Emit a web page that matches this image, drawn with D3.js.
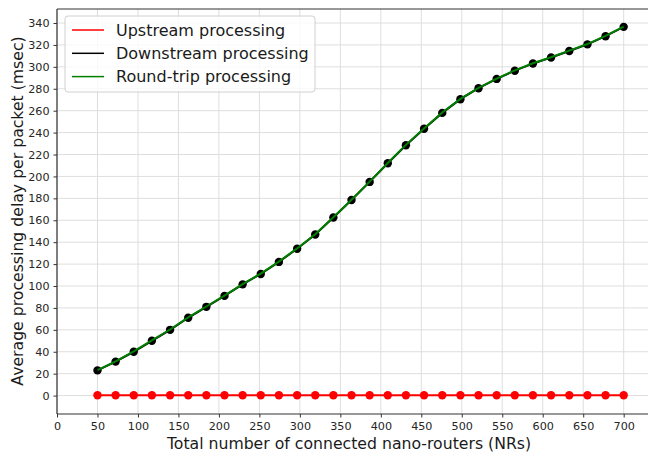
<!DOCTYPE html>
<html>
<head>
<meta charset="utf-8">
<script src="https://cdn.jsdelivr.net/npm/d3@7"></script>
<style>
  body { margin: 0; background: #fff; }
  svg text { font-family: "DejaVu Sans", sans-serif; }
</style>
</head>
<body>
<div id="chart"></div>
<script>
var width = 648, height = 453;

// number of connected NRs (30 points from 50 to 700)
var nrCounts = [50, 72.4, 94.8, 117.2, 139.7, 162.1, 184.5, 206.9, 229.3, 251.7,
  274.1, 296.6, 319, 341.4, 363.8, 386.2, 408.6, 431, 453.4, 475.9,
  498.3, 520.7, 543.1, 565.5, 587.9, 610.3, 632.8, 655.2, 677.6, 700];

var upstream = [0.3, 0.3, 0.3, 0.3, 0.3, 0.3, 0.3, 0.3, 0.3, 0.3,
  0.3, 0.3, 0.3, 0.3, 0.3, 0.3, 0.3, 0.3, 0.3, 0.3,
  0.3, 0.3, 0.3, 0.3, 0.3, 0.3, 0.3, 0.3, 0.3, 0.3];

var downstream = [23, 31, 40, 50, 60, 71, 81, 91, 101.5, 111,
  122, 134, 147, 162.5, 178.5, 195, 212, 228.5, 243.5, 258,
  270.5, 280.5, 289, 296.5, 303, 308.5, 314.5, 320.5, 328, 336.5];

var roundTrip = [23.3, 31.3, 40.3, 50.3, 60.3, 71.3, 81.3, 91.3, 101.8, 111.3,
  122.3, 134.3, 147.3, 162.8, 178.8, 195.3, 212.3, 228.8, 243.8, 258.3,
  270.8, 280.8, 289.3, 296.8, 303.3, 308.8, 314.8, 320.8, 328.3, 336.8];

var xTicks = [0, 50, 100, 150, 200, 250, 300, 350, 400, 450, 500, 550, 600, 650, 700];
var yTicks = [0, 20, 40, 60, 80, 100, 120, 140, 160, 180, 200, 220, 240, 260, 280, 300, 320, 340];

var legendNames = ['Upstream processing', 'Downstream processing', 'Round-trip processing'];
var legendColors = ['#ff0000', '#000000', '#008000'];

var plotLeft = 57, plotTop = 9, plotRight = 650, plotBottom = 414;

var svg = d3.select('#chart').append('svg')
    .attr('width', width)
    .attr('height', height);

var x = d3.scaleLinear().domain([0, 732.5]).range([plotLeft, plotRight]);
var y = d3.scaleLinear().domain([-16.8, 352.8]).range([plotBottom, plotTop]);

// grid
svg.append('g').selectAll('line')
  .data(xTicks).enter().append('line')
    .attr('x1', function(d) { return x(d); })
    .attr('x2', function(d) { return x(d); })
    .attr('y1', plotTop).attr('y2', plotBottom)
    .attr('stroke', '#dedede').attr('stroke-width', 1);
svg.append('g').selectAll('line')
  .data(yTicks).enter().append('line')
    .attr('x1', plotLeft).attr('x2', plotRight)
    .attr('y1', function(d) { return y(d); })
    .attr('y2', function(d) { return y(d); })
    .attr('stroke', '#dedede').attr('stroke-width', 1);

// axes
var xAxis = svg.append('g')
    .attr('transform', 'translate(0,' + plotBottom + ')')
    .call(d3.axisBottom(x).tickValues(xTicks).tickSize(3.5).tickPadding(4.5));
var yAxis = svg.append('g')
    .attr('transform', 'translate(' + plotLeft + ',0)')
    .call(d3.axisLeft(y).tickValues(yTicks).tickSize(3.5).tickPadding(4));

[xAxis, yAxis].forEach(function(a) {
  a.select('.domain').remove();
  a.selectAll('line').attr('stroke', '#333');
  a.selectAll('text').attr('font-size', 11.2).attr('fill', '#262626')
    .attr('font-family', '"DejaVu Sans", sans-serif');
});

// spines
svg.append('line').attr('x1', plotLeft).attr('x2', plotLeft).attr('y1', plotTop).attr('y2', plotBottom)
  .attr('stroke', '#333').attr('stroke-width', 1.2);
svg.append('line').attr('x1', plotLeft).attr('x2', plotRight).attr('y1', plotBottom).attr('y2', plotBottom)
  .attr('stroke', '#333').attr('stroke-width', 1.2);
svg.append('line').attr('x1', plotLeft).attr('x2', plotRight).attr('y1', plotTop).attr('y2', plotTop)
  .attr('stroke', '#333').attr('stroke-width', 1.2);

var line = function(vals) {
  return d3.line()
    .x(function(d, i) { return x(nrCounts[i]); })
    .y(function(d) { return y(d); })(vals);
};

// upstream
svg.append('path').attr('d', line(upstream))
  .attr('fill', 'none').attr('stroke', '#ff0000').attr('stroke-width', 2);
svg.append('g').selectAll('circle')
  .data(upstream).enter().append('circle')
    .attr('cx', function(d, i) { return x(nrCounts[i]); })
    .attr('cy', function(d) { return y(d); })
    .attr('r', 4.2).attr('fill', '#ff0000');

// downstream
svg.append('path').attr('d', line(downstream))
  .attr('fill', 'none').attr('stroke', '#000').attr('stroke-width', 2);
svg.append('g').selectAll('circle')
  .data(downstream).enter().append('circle')
    .attr('cx', function(d, i) { return x(nrCounts[i]); })
    .attr('cy', function(d) { return y(d); })
    .attr('r', 4.2).attr('fill', '#000');

// round trip
svg.append('path').attr('d', line(roundTrip))
  .attr('fill', 'none').attr('stroke', '#008000').attr('stroke-width', 2);

// axis labels
svg.append('text')
  .attr('x', 349).attr('y', 449)
  .attr('text-anchor', 'middle').attr('font-size', 15.7).attr('fill', '#1a1a1a')
  .text('Total number of connected nano-routers (NRs)');
svg.append('text')
  .attr('transform', 'translate(23,' + 211 + ') rotate(-90)')
  .attr('text-anchor', 'middle').attr('font-size', 15.7).attr('fill', '#1a1a1a')
  .text('Average processing delay per packet (msec)');

// legend
var legend = svg.append('g');
legend.append('rect')
  .attr('x', 65).attr('y', 16).attr('width', 250).attr('height', 76)
  .attr('rx', 3).attr('fill', '#fff').attr('fill-opacity', 0.8)
  .attr('stroke', '#d0d0d0').attr('stroke-width', 1);
var items = legend.selectAll('g.item')
  .data(legendNames).enter().append('g')
    .attr('transform', function(d, i) { return 'translate(0,' + (30 + i * 23.3) + ')'; });
items.append('line')
  .attr('x1', 72).attr('x2', 104).attr('y1', 0).attr('y2', 0)
  .attr('stroke', function(d, i) { return legendColors[i]; }).attr('stroke-width', 1.5);
items.append('text')
  .attr('x', 116).attr('y', 5.7)
  .attr('font-size', 16).attr('fill', '#1a1a1a')
  .text(function(d) { return d; });
</script>
</body>
</html>
